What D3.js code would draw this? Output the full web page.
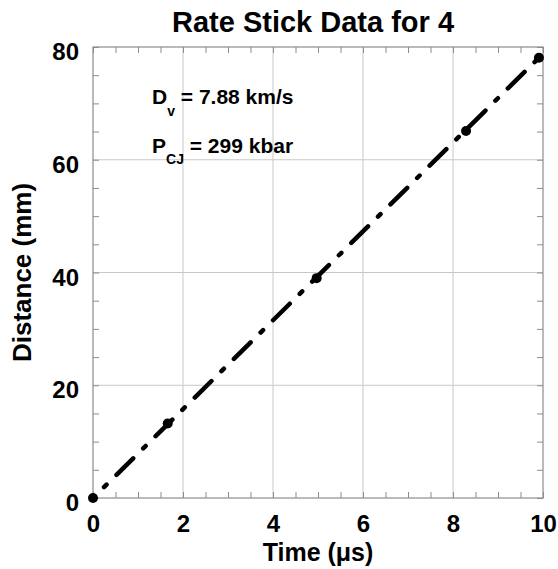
<!DOCTYPE html>
<html>
<head>
<meta charset="utf-8">
<title>Rate Stick Data for 4</title>
<style>
  body { margin: 0; background: #fff; }
  text { font-family: 'Liberation Sans', Arial, sans-serif; font-weight: bold; fill: #000; }
  .grid line { stroke: #c8c8c8; stroke-width: 1; }
  .frame { fill: none; stroke: #8c8c8c; stroke-width: 1.2; }
  .minor line { stroke: #8c8c8c; }
  .minor path, .labels path, .labels line { display: none; }
</style>
<script src="https://d3js.org/d3.v7.min.js"></script>
</head>
<body>
<div id="chart"></div>
<script>
// ******* Data *******
const timeVals = [0, 1.66, 4.97, 8.29, 9.91];
const distVals = [0, 13.2, 39.0, 65.1, 78.1];
const fitTime = [0, 9.91];
const fitDist = [0, 78.1];
const xTicks = [0, 2, 4, 6, 8, 10];
const yTicks = [0, 20, 40, 60, 80];

// ******* Layout *******
const width = 558, height = 569;
const margin = { top: 47, right: 15, bottom: 71, left: 93 };

const svg = d3.select("#chart").append("svg")
  .attr("width", width)
  .attr("height", height);

const x = d3.scaleLinear().domain([0, 10]).range([margin.left, width - margin.right]);
const y = d3.scaleLinear().domain([0, 80]).range([height - margin.bottom, margin.top]);

const x0 = x(0), x1 = x(10), y0 = y(0), y1 = y(80);

// gridlines
svg.append("g").attr("class", "grid")
  .selectAll("line").data(xTicks.slice(1, -1)).join("line")
  .attr("x1", d => x(d)).attr("x2", d => x(d))
  .attr("y1", y0).attr("y2", y1);
svg.append("g").attr("class", "grid")
  .selectAll("line").data(yTicks.slice(1, -1)).join("line")
  .attr("y1", d => y(d)).attr("y2", d => y(d))
  .attr("x1", x0).attr("x2", x1);

// minor ticks, pointing inward on all four sides
const xMinor = d3.range(0, 10.01, 0.5);
const yMinor = d3.range(0, 80.1, 5);
svg.append("g").attr("class", "minor")
  .attr("transform", `translate(0,${y0})`)
  .call(d3.axisBottom(x).tickValues(xMinor).tickSize(-6).tickFormat(""));
svg.append("g").attr("class", "minor")
  .attr("transform", `translate(0,${y1})`)
  .call(d3.axisTop(x).tickValues(xMinor).tickSize(-6).tickFormat(""));
svg.append("g").attr("class", "minor")
  .attr("transform", `translate(${x0},0)`)
  .call(d3.axisLeft(y).tickValues(yMinor).tickSize(-6).tickFormat(""));
svg.append("g").attr("class", "minor")
  .attr("transform", `translate(${x1},0)`)
  .call(d3.axisRight(y).tickValues(yMinor).tickSize(-6).tickFormat(""));

// frame
svg.append("rect").attr("class", "frame")
  .attr("x", x0).attr("y", y1)
  .attr("width", x1 - x0).attr("height", y0 - y1);

// tick labels
const xLab = svg.append("g").attr("class", "labels")
  .attr("transform", `translate(0,${y0})`)
  .call(d3.axisBottom(x).tickValues(xTicks).tickSize(0).tickPadding(17));
xLab.selectAll("text").style("font-size", "24px");
const yLab = svg.append("g").attr("class", "labels")
  .attr("transform", `translate(${x0},5)`)
  .call(d3.axisLeft(y).tickValues(yTicks).tickSize(0).tickPadding(14));
yLab.selectAll("text").style("font-size", "24px");

// fit line (dash-dot)
const line = d3.line().x(d => x(d[0])).y(d => y(d[1]));
svg.append("path")
  .datum(d3.zip(fitTime, fitDist))
  .attr("d", line)
  .attr("fill", "none")
  .attr("stroke", "#000")
  .attr("stroke-width", 4.5)
  .attr("stroke-linecap", "round")
  .attr("stroke-dasharray", "23.5,14,3.5,14")
  .attr("stroke-dashoffset", 22);

// data points
svg.append("g").selectAll("circle")
  .data(d3.zip(timeVals, distVals)).join("circle")
  .attr("cx", d => x(d[0]))
  .attr("cy", d => y(d[1]))
  .attr("r", 5)
  .attr("fill", "#000");

// title & axis labels
svg.append("text")
  .attr("x", (x0 + x1) / 2 - 5).attr("y", 32)
  .attr("text-anchor", "middle")
  .style("font-size", "29px")
  .text("Rate Stick Data for 4");
svg.append("text")
  .attr("x", (x0 + x1) / 2).attr("y", 561)
  .attr("text-anchor", "middle")
  .style("font-size", "25px")
  .text("Time (\u03bcs)");
svg.append("text")
  .attr("transform", `translate(31,${(y0 + y1) / 2}) rotate(-90)`)
  .attr("text-anchor", "middle")
  .style("font-size", "26px")
  .text("Distance (mm)");

// annotations
const ann1 = svg.append("text").attr("x", 152).attr("y", 104).style("font-size", "21px");
ann1.append("tspan").text("D");
ann1.append("tspan").attr("dy", 12).style("font-size", "14px").text("v");
ann1.append("tspan").attr("dy", -12).text(" = 7.88 km/s");

const ann2 = svg.append("text").attr("x", 152).attr("y", 153).style("font-size", "21px");
ann2.append("tspan").text("P");
ann2.append("tspan").attr("dy", 11).style("font-size", "14px").text("CJ");
ann2.append("tspan").attr("dy", -11).text(" = 299 kbar");
</script>
</body>
</html>
